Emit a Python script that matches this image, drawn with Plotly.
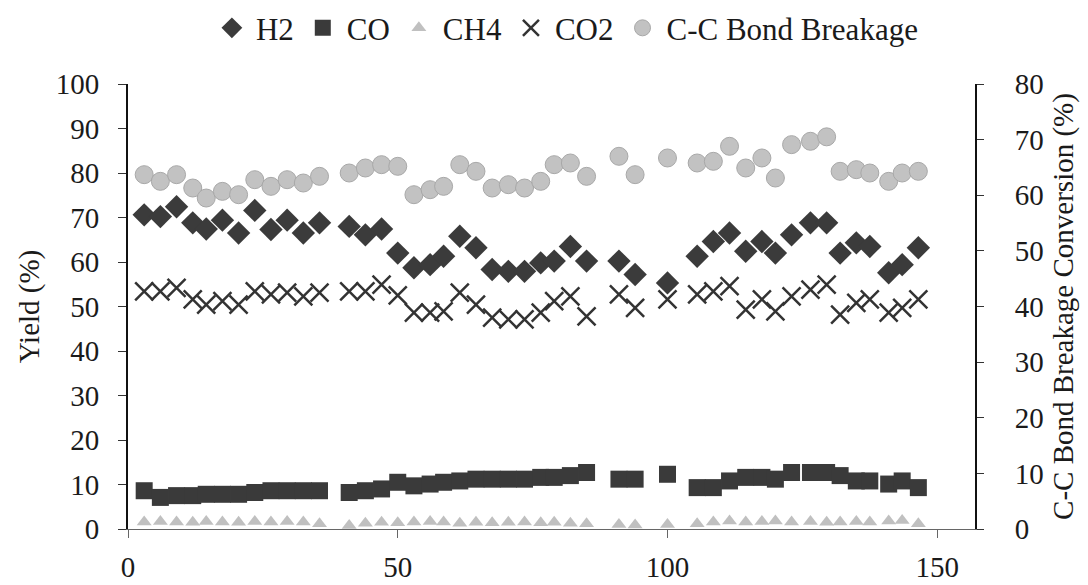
import plotly.graph_objects as go

# Time on stream (x) for each sample
x_vals = [3, 6, 9, 12, 14.5, 17.5, 20.5, 23.5, 26.5, 29.5, 32.5, 35.5,
          41, 44, 47, 50, 53, 56, 58.5, 61.5, 64.5, 67.5, 70.5, 73.5, 76.5, 79, 82, 85,
          91, 94,
          100,
          105.5, 108.5, 111.5, 114.5, 117.5, 120, 123, 126.5, 129.5, 132, 135, 137.5, 141, 143.5, 146.5]

h2 = [70.6, 70.2, 72.4, 68.8, 67.4, 69.4, 66.5, 71.6, 67.3, 69.4, 66.5, 68.8,
      68.0, 66.1, 67.4, 62.0, 58.7, 59.4, 61.3, 65.8, 63.2, 58.3, 57.9, 57.9, 59.8, 60.2, 63.5, 60.2,
      60.2, 57.2,
      55.3,
      61.3, 64.6, 66.5, 62.4, 64.6, 62.0, 66.1, 68.8, 68.8, 62.0, 64.3, 63.5, 57.6, 59.4, 63.2]

co = [8.6, 7.1, 7.5, 7.5, 7.8, 7.8, 7.8, 8.2, 8.6, 8.6, 8.6, 8.6,
      8.2, 8.6, 9.0, 10.5, 9.7, 10.1, 10.5, 10.8, 11.2, 11.2, 11.2, 11.2, 11.6, 11.6, 12.0, 12.7,
      11.2, 11.2,
      12.3,
      9.3, 9.3, 10.8, 11.6, 11.6, 11.2, 12.7, 12.7, 12.7, 12.0, 10.8, 10.8, 10.1, 10.8, 9.3]

ch4 = [1.6, 1.7, 1.6, 1.5, 1.7, 1.6, 1.5, 1.7, 1.6, 1.7, 1.6, 1.2,
       0.8, 1.3, 1.5, 1.4, 1.6, 1.7, 1.6, 1.3, 1.5, 1.4, 1.5, 1.6, 1.4, 1.5, 1.3, 1.2,
       1.0, 0.9,
       1.0,
       1.2, 1.6, 1.8, 1.6, 1.7, 1.8, 1.6, 1.7, 1.5, 1.6, 1.7, 1.6, 1.8, 1.9, 1.2]

co2 = [53.4, 53.4, 54.2, 51.6, 50.4, 51.2, 50.4, 53.4, 52.7, 53.1, 52.3, 53.1,
       53.4, 53.4, 54.9, 52.5, 48.6, 48.6, 48.9, 53.1, 50.4, 47.5, 47.1, 47.1, 48.6, 51.2, 52.3, 47.8,
       52.7, 49.7,
       51.6,
       52.7, 53.4, 54.6, 49.3, 51.6, 48.9, 52.3, 53.8, 54.9, 48.2, 50.8, 51.6, 48.6, 49.7, 51.6]

cc_break = [63.7, 62.5, 63.7, 61.3, 59.5, 60.7, 60.1, 62.8, 61.6, 62.8, 62.2, 63.4,
            64.0, 64.9, 65.5, 65.2, 60.1, 61.0, 61.6, 65.5, 64.3, 61.3, 61.9, 61.3, 62.5, 65.5, 65.8, 63.4,
            67.0, 63.7,
            66.7,
            65.8, 66.1, 68.8, 64.9, 66.7, 63.1, 69.1, 69.7, 70.5, 64.3, 64.6, 64.0, 62.5, 64.0, 64.3]

x_ticks = [0, 50, 100, 150]
y_ticks = list(range(0, 101, 10))
y2_ticks = list(range(0, 81, 10))

FONT = "Liberation Serif"
TXT = "#1a1a1a"
TICK_SIZE = 29

fig = go.Figure()

fig.add_trace(go.Scatter(x=x_vals, y=h2, mode="markers", name="H2",
                         marker=dict(symbol="diamond", size=18, color="#3b3b3b")))
fig.add_trace(go.Scatter(x=x_vals, y=co, mode="markers", name="CO",
                         marker=dict(symbol="square", size=17, color="#3a3a3a")))
fig.add_trace(go.Scatter(x=x_vals, y=ch4, mode="markers", name="CH4",
                         marker=dict(symbol="triangle-up", size=13, color="#c0c0c0")))
fig.add_trace(go.Scatter(x=x_vals, y=co2, mode="markers", name="CO2",
                         marker=dict(symbol="x-thin", size=18, color="#333333",
                                     line=dict(color="#333333", width=2.5))))
fig.add_trace(go.Scatter(x=x_vals, y=cc_break, mode="markers", name="C-C Bond Breakage",
                         yaxis="y2",
                         marker=dict(symbol="circle", size=18, color="#c2c2c2",
                                     line=dict(color="#a8a8a8", width=1))))

fig.update_layout(
    width=1088, height=585,
    paper_bgcolor="white", plot_bgcolor="white",
    margin=dict(l=128, r=113, t=84, b=56),
    font=dict(family=FONT, size=TICK_SIZE, color=TXT),
    showlegend=True,
    legend=dict(orientation="h", x=0.517, xanchor="center", y=0.998, yanchor="top",
                yref="container", font=dict(family=FONT, size=31, color=TXT),
                itemwidth=38, tracegroupgap=0, bgcolor="rgba(0,0,0,0)"),
    xaxis=dict(range=[0, 157], tickvals=x_ticks, showgrid=False, zeroline=False,
               showline=True, linecolor="#666666", linewidth=1, automargin=False,
               ticks="outside", ticklen=8, tickcolor="#666666", ticklabelstandoff=4,
               tickfont=dict(family=FONT, size=TICK_SIZE, color=TXT)),
    yaxis=dict(range=[0, 100], tickvals=y_ticks, showgrid=False, zeroline=False,
               showline=True, linecolor="#111111", linewidth=2, automargin=False,
               ticks="outside", ticklen=8, tickcolor="#333333", ticklabelstandoff=13,
               title=dict(text="Yield (%)", font=dict(family=FONT, size=TICK_SIZE, color=TXT), standoff=8),
               tickfont=dict(family=FONT, size=TICK_SIZE, color=TXT)),
    yaxis2=dict(range=[0, 80], tickvals=y2_ticks, overlaying="y", side="right",
                showgrid=False, zeroline=False, automargin=False,
                showline=True, linecolor="#111111", linewidth=2,
                ticks="outside", ticklen=7, tickcolor="#333333", ticklabelstandoff=25,
                title=dict(text="C-C Bond Breakage Conversion (%)",
                           font=dict(family=FONT, size=TICK_SIZE, color=TXT), standoff=10),
                tickfont=dict(family=FONT, size=TICK_SIZE, color=TXT)),
)

fig.write_html("out.html")
